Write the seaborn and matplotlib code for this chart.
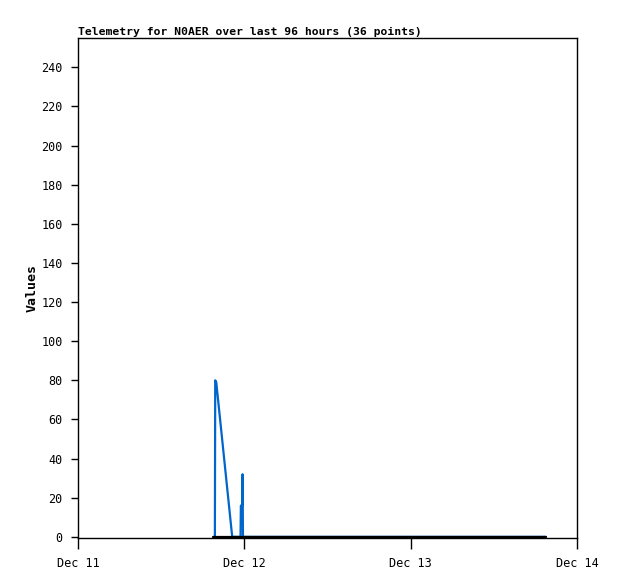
import pandas as pd
import numpy as np
import matplotlib
matplotlib.use('Agg')
import matplotlib.pyplot as plt
import matplotlib.dates as mdates
import seaborn as sns

# ── Data (hours after Dec 11 00:00) ──────────────────────
blue_hours  = [19.6, 19.75, 19.8, 19.95, 22.25, 23.45, 23.5, 23.7, 23.75, 23.8, 67.5]
blue_values = [0,    0,     80,   79,    0,     0,     16,   16,   32,    0,    0]

black_hours  = [19.5, 67.5]
black_values = [0,    0]

x_ticks  = ['2023-12-11', '2023-12-12', '2023-12-13', '2023-12-14']
y_ticks  = list(range(0, 241, 20))
title    = 'Telemetry for N0AER over last 96 hours (36 points)'

start = pd.Timestamp('2023-12-11')
blue  = pd.DataFrame({'time': start + pd.to_timedelta(blue_hours, unit='h'),
                      'value': blue_values})
black = pd.DataFrame({'time': start + pd.to_timedelta(black_hours, unit='h'),
                      'value': black_values})

# ── Plot ─────────────────────────────────────────────────
sns.set_style('ticks')
plt.rcParams['font.family'] = ['DejaVu Sans Mono']
plt.rcParams['text.color'] = 'black'
plt.rcParams['xtick.color'] = 'black'
plt.rcParams['ytick.color'] = 'black'
plt.rcParams['axes.labelcolor'] = 'black'

fig = plt.figure(figsize=(6.18, 5.79), dpi=100)
ax = fig.add_axes([78/618, 41/579, 499/618, 500/579])

sns.lineplot(data=blue, x='time', y='value', ax=ax, color='#0066cc',
             linewidth=1.6, estimator=None, sort=False)
sns.lineplot(data=black, x='time', y='value', ax=ax, color='black',
             linewidth=1.6, estimator=None, sort=False)
ax.lines[-1].set_zorder(5)
ax.lines[-1].set_clip_on(False)

ax.set_xlim(pd.Timestamp(x_ticks[0]), pd.Timestamp(x_ticks[-1]))
ax.set_ylim(-0.6, 255)
ax.set_xticks(pd.to_datetime(x_ticks))
ax.xaxis.set_major_formatter(mdates.DateFormatter('%b %d'))
ax.set_yticks(y_ticks)
ax.tick_params(axis='x', length=8, width=1, labelsize=8.5, pad=6)
ax.tick_params(axis='y', length=5, width=1, labelsize=8.5, pad=6)

for s in ax.spines.values():
    s.set_visible(True)
    s.set_linewidth(1)
    s.set_color('black')

ax.set_xlabel('')
ax.set_ylabel('Values', fontsize=9.5, fontweight='bold', labelpad=2)
ax.set_title(title, loc='left', fontsize=8.2, fontweight='bold', pad=2)

plt.savefig('out.png', dpi=100)
